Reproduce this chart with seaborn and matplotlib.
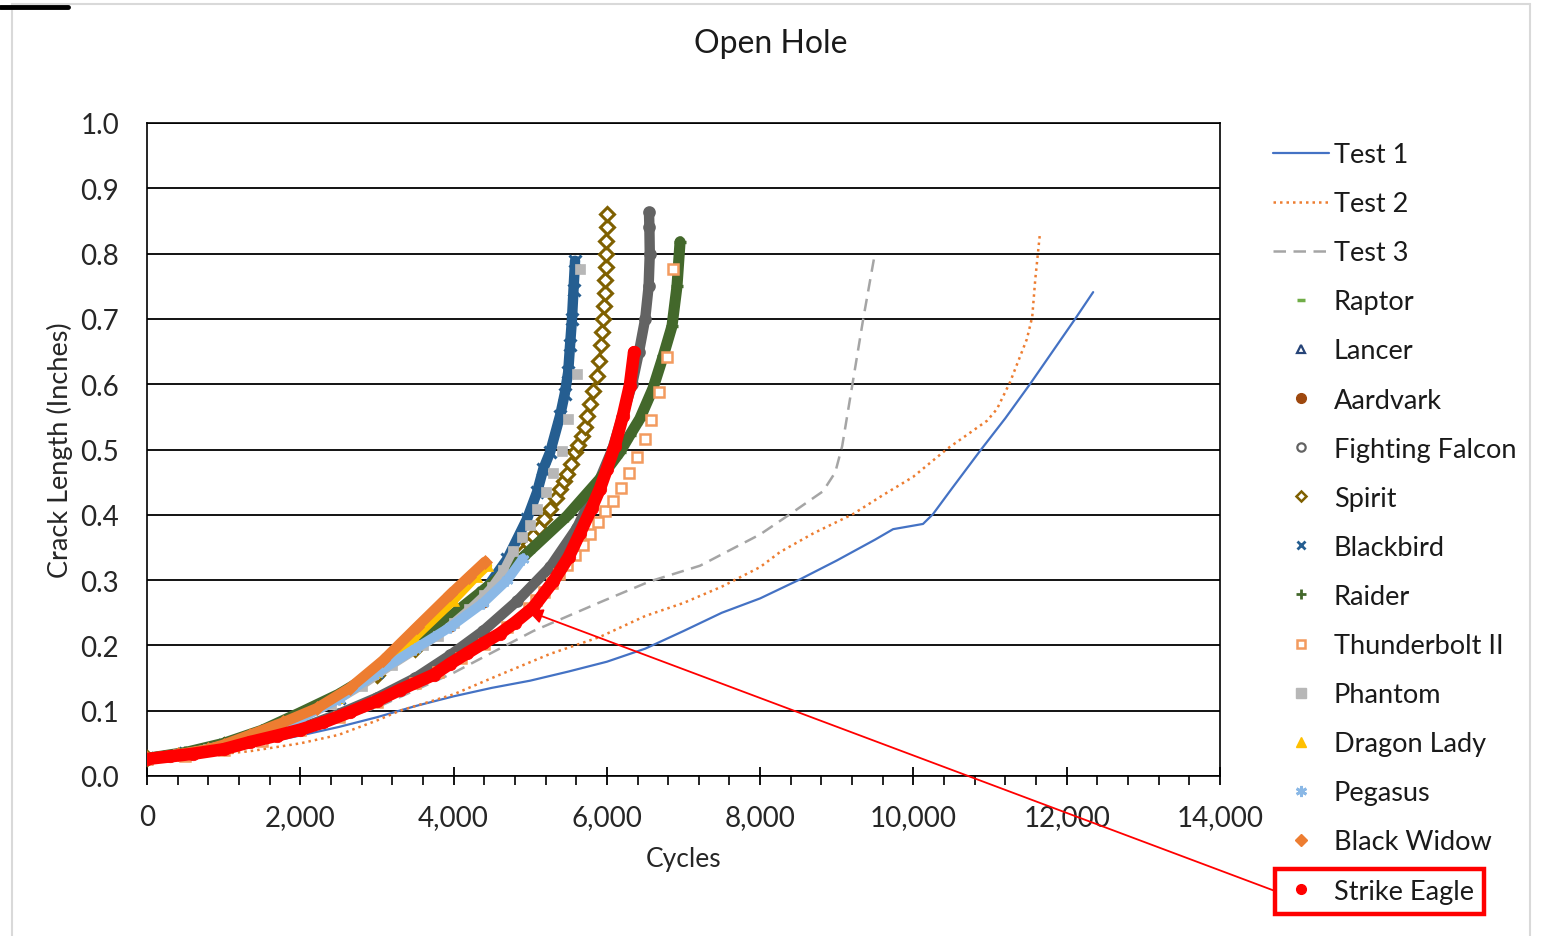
import matplotlib
matplotlib.use("Agg")
import matplotlib.pyplot as plt
from matplotlib.lines import Line2D
from matplotlib.patches import Rectangle, FancyArrowPatch
from matplotlib.ticker import MultipleLocator, FuncFormatter
import seaborn as sns

# ---------------- data (cycles, crack length in inches) ----------------
test1_x = [0, 500, 1000, 1500, 2000, 2500, 3000, 3500, 4000, 4500, 5000, 5500, 6000, 6500, 7000,
           7500, 8000, 8500, 9000, 9500, 9735, 10125, 10255, 10500, 10870, 11200, 11520, 12110, 12345]
test1_y = [0.030, 0.034, 0.040, 0.050, 0.062, 0.075, 0.090, 0.107, 0.122, 0.135, 0.146, 0.160, 0.175, 0.195, 0.222,
           0.250, 0.272, 0.300, 0.330, 0.362, 0.378, 0.386, 0.401, 0.440, 0.498, 0.548, 0.600, 0.700, 0.741]

test2_x = [0, 500, 1000, 1345, 2000, 2500, 3000, 3300, 4000, 4500, 5260, 5910, 6500, 7000, 7500, 8000,
           8260, 8700, 9210, 9600, 9995, 10440, 10960, 11090, 11260, 11480, 11550, 11590, 11650]
test2_y = [0.027, 0.030, 0.034, 0.038, 0.050, 0.063, 0.085, 0.100, 0.125, 0.150, 0.187, 0.213, 0.245, 0.265, 0.290, 0.320,
           0.343, 0.372, 0.401, 0.430, 0.458, 0.501, 0.544, 0.562, 0.603, 0.669, 0.703, 0.761, 0.830]

test3_x = [0, 1000, 2000, 3000, 4000, 4600, 5040, 5910, 6560, 7215, 8000, 8390, 8820, 8980, 9070, 9200, 9345, 9500]
test3_y = [0.027, 0.042, 0.068, 0.105, 0.158, 0.195, 0.222, 0.266, 0.298, 0.322, 0.370, 0.401, 0.436, 0.465, 0.505,
           0.597, 0.700, 0.802]

raptor_x = [0, 500, 1000, 1500, 2000, 2500, 3000, 3500, 4000, 4500]
raptor_y = [0.027, 0.036, 0.050, 0.070, 0.096, 0.124, 0.159, 0.199, 0.246, 0.292]

lancer_x = [0, 500, 1000, 1500, 2000, 2500, 3000, 3500, 3955, 4390]
lancer_y = [0.027, 0.035, 0.048, 0.066, 0.090, 0.120, 0.160, 0.200, 0.242, 0.281]

aardvark_x = [0, 500, 1000, 1500, 2000, 2500, 3000, 3500, 3955, 4385]
aardvark_y = [0.027, 0.034, 0.047, 0.064, 0.088, 0.118, 0.158, 0.195, 0.228, 0.265]

falcon_x = [0, 500, 1000, 1500, 2000, 2500, 3000, 3500, 3955, 4385, 4830, 5260, 5610, 5870, 6070, 6200,
            6330, 6420, 6500, 6545, 6560, 6555, 6550]
falcon_y = [0.027, 0.033, 0.042, 0.055, 0.073, 0.095, 0.120, 0.150, 0.185, 0.222, 0.268, 0.320, 0.380, 0.444, 0.500, 0.550,
            0.600, 0.650, 0.700, 0.750, 0.800, 0.840, 0.863]

spirit_x = [0, 1000, 2000, 3000, 3500, 4000, 4500, 4910, 4980, 5040, 5110, 5180, 5260, 5330, 5390, 5440, 5480,
            5530, 5585, 5630, 5675, 5710, 5740, 5780, 5820, 5870, 5900, 5925, 5940, 5950, 5962, 5972, 5980,
            5987, 5990, 5995, 5998, 6000]
spirit_y = [0.027, 0.047, 0.090, 0.155, 0.195, 0.240, 0.290, 0.343, 0.355, 0.368, 0.380, 0.393, 0.409, 0.425, 0.440,
            0.452, 0.462, 0.478, 0.496, 0.507, 0.520, 0.535, 0.551, 0.570, 0.590, 0.613, 0.635, 0.660, 0.680, 0.700,
            0.720, 0.740, 0.760, 0.780, 0.800, 0.820, 0.840, 0.861]

blackbird_x = [0, 500, 1000, 1500, 2000, 2500, 3000, 3500, 3955, 4390, 4700, 4960, 5090, 5170, 5260, 5390,
               5450, 5495, 5520, 5545, 5565, 5585]
blackbird_y = [0.027, 0.035, 0.048, 0.066, 0.090, 0.120, 0.160, 0.200, 0.242, 0.281, 0.332, 0.394, 0.435, 0.470, 0.496,
               0.552, 0.585, 0.618, 0.660, 0.700, 0.745, 0.789]

raider_x = [0, 500, 1000, 1500, 2000, 2500, 3000, 3500, 4000, 4500, 4905, 5040, 5480, 5910, 6170, 6300, 6430,
            6600, 6735, 6850, 6915, 6955]
raider_y = [0.027, 0.036, 0.050, 0.070, 0.097, 0.125, 0.160, 0.200, 0.248, 0.295, 0.335, 0.350, 0.398, 0.455, 0.496,
            0.522, 0.547, 0.593, 0.643, 0.689, 0.750, 0.818]

thunder_x = [0, 500, 1000, 1500, 2000, 2500, 3000, 3500, 3800, 4100, 4400, 4700, 4980, 5080, 5180, 5280, 5380,
             5480, 5585, 5689, 5780, 5885, 5976, 6080, 6185, 6289, 6393, 6498, 6576, 6681, 6785, 6863]
thunder_y = [0.026, 0.031, 0.040, 0.054, 0.070, 0.090, 0.113, 0.142, 0.160, 0.180, 0.202, 0.228, 0.258, 0.270, 0.282,
             0.295, 0.309, 0.323, 0.338, 0.354, 0.371, 0.389, 0.406, 0.421, 0.441, 0.464, 0.489, 0.516, 0.545, 0.588,
             0.642, 0.776]

phantom_x = [0, 400, 800, 1200, 1600, 2000, 2400, 2800, 3200, 3600, 3800, 4000, 4200, 4400, 4500, 4650, 4780,
             4895, 4995, 5085, 5205, 5295, 5415, 5495, 5610, 5650]
phantom_y = [0.027, 0.034, 0.042, 0.054, 0.068, 0.088, 0.110, 0.138, 0.170, 0.200, 0.215, 0.235, 0.255, 0.277, 0.290,
             0.315, 0.345, 0.366, 0.384, 0.409, 0.435, 0.464, 0.498, 0.547, 0.616, 0.776]

dragon_x = [0, 500, 1000, 1500, 2000, 2500, 3000, 3500, 4000, 4300, 4450]
dragon_y = [0.027, 0.034, 0.048, 0.066, 0.090, 0.120, 0.160, 0.212, 0.268, 0.305, 0.322]

pegasus_x = [0, 500, 1000, 1500, 2000, 2500, 3000, 3500, 3955, 4385, 4700, 4905]
pegasus_y = [0.027, 0.034, 0.047, 0.064, 0.088, 0.118, 0.158, 0.195, 0.228, 0.265, 0.300, 0.333]

widow_x = [0, 400, 800, 1000, 1345, 1775, 2220, 2650, 3080, 3520, 3955, 4200, 4410]
widow_y = [0.027, 0.033, 0.041, 0.048, 0.063, 0.082, 0.104, 0.135, 0.177, 0.228, 0.278, 0.305, 0.328]

eagle_x = [0, 300, 600, 1000, 1345, 1700, 2000, 2300, 2650, 3000, 3300, 3740, 3955, 4175, 4385, 4600, 4800,
           5040, 5300, 5500, 5650, 5800, 5910, 6000, 6105, 6210, 6300, 6355]
eagle_y = [0.026, 0.030, 0.034, 0.041, 0.052, 0.062, 0.071, 0.082, 0.098, 0.115, 0.132, 0.155, 0.172, 0.188, 0.203,
           0.218, 0.235, 0.258, 0.298, 0.335, 0.372, 0.410, 0.440, 0.470, 0.506, 0.552, 0.598, 0.649]

x_ticks = [0, 2000, 4000, 6000, 8000, 10000, 12000, 14000]
y_ticks = [0.0, 0.1, 0.2, 0.3, 0.4, 0.5, 0.6, 0.7, 0.8, 0.9, 1.0]

# ---------------- styling ----------------
sns.set_theme(style="white")
plt.rcParams['font.family'] = ['Lato', 'DejaVu Sans']
plt.rcParams['text.color'] = '#1a1a1a'

W, H = 1544, 937
fig = plt.figure(figsize=(W / 100, H / 100), dpi=100)
ax = fig.add_axes([147 / W, 1 - 777 / H, (1220 - 147) / W, (777 - 124) / H])


def line(x, y, color, lw, ls='-', z=2):
    sns.lineplot(x=x, y=y, ax=ax, color=color, linewidth=lw, linestyle=ls, sort=False,
                 estimator=None, zorder=z, legend=False)


def marks(x, y, color, marker, ms, face=None, mew=1.5, band=None, band_upto=None, z=3):
    if band:
        bx, by = x, y
        if band_upto is not None:
            idx = [i for i, v in enumerate(y) if v <= band_upto]
            bx = [x[i] for i in idx]
            by = [y[i] for i in idx]
        sns.lineplot(x=bx, y=by, ax=ax, color=color, linewidth=band, sort=False, estimator=None,
                     zorder=z, legend=False, solid_capstyle='round')
    sns.lineplot(x=x, y=y, ax=ax, color=color, linestyle='none', marker=marker, markersize=ms,
                 markerfacecolor=(color if face is None else face), markeredgecolor=color,
                 markeredgewidth=mew, sort=False, estimator=None, zorder=z, legend=False)


c_t1, c_t2, c_t3 = '#4472C4', '#ED7D31', '#A5A5A5'
c_raptor, c_lancer, c_aard = '#70AD47', '#264478', '#9E480E'
c_falcon, c_spirit, c_bb = '#636363', '#7F6000', '#255E91'
c_raider, c_tb, c_ph = '#43682B', '#F39B5F', '#B7B7B7'
c_dl, c_peg, c_bw, c_se = '#FFC000', '#8AB8E6', '#ED7D31', '#FF0000'

# test curves
line(test1_x, test1_y, c_t1, 1.6, '-')
line(test2_x, test2_y, c_t2, 1.8, (0, (1, 1.6)))
line(test3_x, test3_y, c_t3, 1.8, (0, (5, 3)))

# marker series (drawn in legend order)
marks(raptor_x, raptor_y, c_raptor, '_', 6, mew=2, band=5)
marks(lancer_x, lancer_y, c_lancer, '^', 6, face='white', band=5)
marks(aardvark_x, aardvark_y, c_aard, 'o', 6, band=5)
marks(falcon_x, falcon_y, c_falcon, 'o', 7.5, mew=1.6, band=7.5)
marks(spirit_x, spirit_y, c_spirit, 'D', 7, face='white', mew=2.2, band=2)
marks(blackbird_x, blackbird_y, c_bb, 'x', 8.5, mew=2.2, band=7.5)
marks(raider_x, raider_y, c_raider, '+', 8.5, mew=2.4, band=8)
marks(thunder_x, thunder_y, c_tb, 's', 7.5, face='white', mew=1.8, band=5, band_upto=0.33)
marks(phantom_x, phantom_y, c_ph, 's', 7.5, mew=0.5, band=6, band_upto=0.35)
marks(dragon_x, dragon_y, c_dl, '^', 7, mew=0.5, band=6)
marks(pegasus_x, pegasus_y, c_peg, (6, 2, 0), 8.5, mew=2.0, band=7)
marks(widow_x, widow_y, c_bw, 'D', 7.5, mew=0.5, band=7.5)
marks(eagle_x, eagle_y, c_se, 'o', 9, mew=0.5, band=9)

# axes
ax.set_xlim(0, 14000)
ax.set_ylim(0, 1.0)
ax.set_xticks(x_ticks)
ax.set_yticks(y_ticks)
ax.xaxis.set_minor_locator(MultipleLocator(400))
ax.xaxis.set_major_formatter(FuncFormatter(lambda v, p: f"{int(v):,}"))
ax.yaxis.set_major_formatter(FuncFormatter(lambda v, p: f"{v:.1f}"))
ax.grid(True, axis='y', color='black', linewidth=1.3, zorder=0)
ax.grid(False, axis='x')
ax.set_axisbelow(True)
for s in ax.spines.values():
    s.set_visible(True)
    s.set_color('black')
    s.set_linewidth(1.2)
ax.tick_params(axis='x', which='major', direction='inout', length=13, width=1.3, color='black',
               labelsize=20, pad=14, bottom=True)
ax.tick_params(axis='x', which='minor', direction='out', length=6.5, width=1.2, color='black', bottom=True)
ax.tick_params(axis='y', which='major', length=0, labelsize=20, pad=20)

ax.set_xlabel('Cycles', fontsize=19)
ax.xaxis.set_label_coords(0.5, (777 - 860) / 653)
ax.xaxis.label.set_verticalalignment('center')
ax.set_ylabel('Crack Length (Inches)', fontsize=19.5)
ax.yaxis.set_label_coords((60 - 147) / 1073, 0.5)
ax.yaxis.label.set_verticalalignment('center')
ax.yaxis.label.set_horizontalalignment('center')

fig.text(771 / W, 1 - 44 / H, 'Open Hole', ha='center', va='center', fontsize=23)

# legend
handles = [
    Line2D([], [], color=c_t1, lw=1.6),
    Line2D([], [], color=c_t2, lw=1.8, ls=(0, (1, 1.6))),
    Line2D([], [], color=c_t3, lw=1.8, ls=(0, (5, 3))),
    Line2D([], [], ls='none', marker='_', ms=6, mew=2.5, color=c_raptor),
    Line2D([], [], ls='none', marker='^', ms=6, mfc='white', mec=c_lancer, mew=1.6),
    Line2D([], [], ls='none', marker='o', ms=7, color=c_aard),
    Line2D([], [], ls='none', marker='o', ms=6, mfc='white', mec=c_falcon, mew=1.6),
    Line2D([], [], ls='none', marker='D', ms=5.5, mfc='white', mec=c_spirit, mew=1.8),
    Line2D([], [], ls='none', marker='x', ms=6, mew=2.0, color=c_bb),
    Line2D([], [], ls='none', marker='+', ms=7, mew=2.0, color=c_raider),
    Line2D([], [], ls='none', marker='s', ms=6, mfc='white', mec=c_tb, mew=1.8),
    Line2D([], [], ls='none', marker='s', ms=7, color=c_ph),
    Line2D([], [], ls='none', marker='^', ms=7, color=c_dl),
    Line2D([], [], ls='none', marker=(6, 2, 0), ms=8, mew=2.0, color=c_peg),
    Line2D([], [], ls='none', marker='D', ms=6, color=c_bw),
    Line2D([], [], ls='none', marker='o', ms=7, color=c_se),
]
labels = ['Test 1', 'Test 2', 'Test 3', 'Raptor', 'Lancer', 'Aardvark', 'Fighting Falcon', 'Spirit',
          'Blackbird', 'Raider', 'Thunderbolt II', 'Phantom', 'Dragon Lady', 'Pegasus', 'Black Widow',
          'Strike Eagle']
leg = fig.legend(handles, labels, loc='upper left', bbox_to_anchor=(1273 / W, 1 - 143 / H),
                 frameon=False, fontsize=19.5, handlelength=2.05, handletextpad=0.2,
                 labelspacing=0.89, borderpad=0, borderaxespad=0)

# highlight box and arrow
fig.add_artist(Rectangle((1275 / W, 1 - 915 / H), 209 / W, 45 / H, transform=fig.transFigure,
                         fill=False, edgecolor='red', linewidth=3.2))
fig.add_artist(FancyArrowPatch((1275 / W, 1 - 892 / H), (528 / W, 1 - 612 / H),
                               transform=fig.transFigure, arrowstyle='-|>', mutation_scale=22,
                               color='red', linewidth=1.3, shrinkA=0, shrinkB=0))

# page frame remnants
fig.add_artist(Line2D([12 / W, 12 / W], [0, 1 - 5 / H], transform=fig.transFigure, color='#D9D9D9', lw=1.5))
fig.add_artist(Line2D([12 / W, 1530 / W], [1 - 5 / H, 1 - 5 / H], transform=fig.transFigure, color='#D9D9D9', lw=1.5))
fig.add_artist(Line2D([1530 / W, 1530 / W], [0, 1 - 5 / H], transform=fig.transFigure, color='#D9D9D9', lw=1.5))
fig.add_artist(Line2D([0, 68 / W], [1 - 8 / H, 1 - 8 / H], transform=fig.transFigure, color='black', lw=3.5))

fig.savefig('out.png', dpi=100, facecolor='white')
